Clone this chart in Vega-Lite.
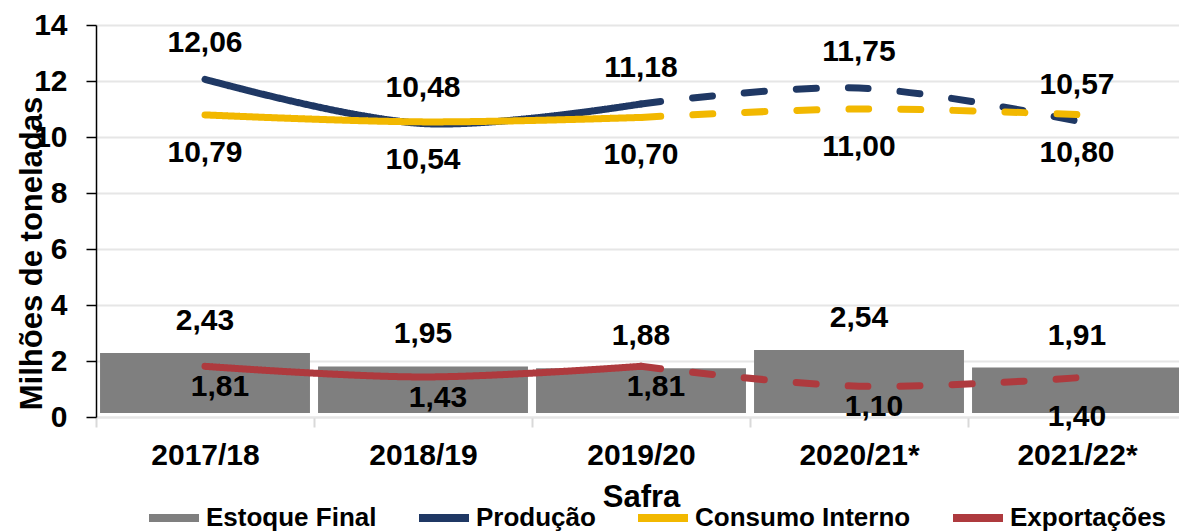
{
  "$schema": "https://vega.github.io/schema/vega-lite/v6.json",
  "width": 1083,
  "height": 392,
  "autosize": {"type": "none"},
  "padding": {"left": 96, "top": 25, "right": 0, "bottom": 115},
  "config": {
    "locale": {"number": {"decimal": ",", "thousands": ".", "grouping": [3], "currency": ["R$ ", ""]}},
    "font": "Liberation Sans",
    "view": {"stroke": null}
  },
  "datasets": {
    "estoque": [
      {"safra": "2017/18", "valor": 2.43},
      {"safra": "2018/19", "valor": 1.95},
      {"safra": "2019/20", "valor": 1.88},
      {"safra": "2020/21*", "valor": 2.54},
      {"safra": "2021/22*", "valor": 1.91}
    ],
    "linhas": [
      {"safra": "2017/18", "serie": "Produção", "tipo": "real", "valor": 12.06},
      {"safra": "2018/19", "serie": "Produção", "tipo": "real", "valor": 10.48},
      {"safra": "2019/20", "serie": "Produção", "tipo": "real", "valor": 11.18},
      {"safra": "2019/20", "serie": "Produção", "tipo": "proj", "valor": 11.18},
      {"safra": "2020/21*", "serie": "Produção", "tipo": "proj", "valor": 11.75},
      {"safra": "2021/22*", "serie": "Produção", "tipo": "proj", "valor": 10.57},
      {"safra": "2017/18", "serie": "Consumo Interno", "tipo": "real", "valor": 10.79},
      {"safra": "2018/19", "serie": "Consumo Interno", "tipo": "real", "valor": 10.54},
      {"safra": "2019/20", "serie": "Consumo Interno", "tipo": "real", "valor": 10.70},
      {"safra": "2019/20", "serie": "Consumo Interno", "tipo": "proj", "valor": 10.70},
      {"safra": "2020/21*", "serie": "Consumo Interno", "tipo": "proj", "valor": 11.00},
      {"safra": "2021/22*", "serie": "Consumo Interno", "tipo": "proj", "valor": 10.80},
      {"safra": "2017/18", "serie": "Exportações", "tipo": "real", "valor": 1.81},
      {"safra": "2018/19", "serie": "Exportações", "tipo": "real", "valor": 1.43},
      {"safra": "2019/20", "serie": "Exportações", "tipo": "real", "valor": 1.81},
      {"safra": "2019/20", "serie": "Exportações", "tipo": "proj", "valor": 1.81},
      {"safra": "2020/21*", "serie": "Exportações", "tipo": "proj", "valor": 1.10},
      {"safra": "2021/22*", "serie": "Exportações", "tipo": "proj", "valor": 1.40}
    ]
  },
  "encoding": {
    "x": {
      "field": "safra", "type": "nominal", "sort": null,
      "scale": {"range": [0, 1090], "paddingInner": 0, "paddingOuter": 0},
      "axis": {
        "title": "Safra", "labelAngle": 0, "labelFontSize": 30, "labelFontWeight": "bold", "labelColor": "#000000",
        "tickBand": "extent", "tickColor": "#d9d9d9", "tickWidth": 2, "tickSize": 10,
        "domainColor": "#e6e6e6", "domainWidth": 2, "labelPadding": 13, "grid": false,
        "titleFontSize": 31, "titleFontWeight": "bold", "titleColor": "#000000", "titlePadding": 12
      }
    },
    "y": {
      "field": "valor", "type": "quantitative",
      "scale": {"domain": [0, 14], "nice": false},
      "axis": {
        "title": "Milhões de toneladas", "values": [0, 2, 4, 6, 8, 10, 12, 14],
        "grid": true, "gridColor": "#e6e6e6", "gridWidth": 2,
        "domainColor": "#000000", "domainWidth": 1.5, "tickColor": "#000000", "tickWidth": 1.5, "tickSize": 10,
        "labelFontSize": 30, "labelFontWeight": "bold", "labelColor": "#000000", "labelPadding": 19,
        "titleFontSize": 31, "titleFontWeight": "bold", "titleColor": "#000000",
        "titleX": -55, "titleY": 228, "titleBaseline": "alphabetic", "titleAngle": -90
      }
    }
  },
  "layer": [
    {
      "data": {"name": "estoque"},
      "mark": {"type": "bar", "color": "#7f7f7f", "width": {"band": 0.963}, "yOffset": 4, "y2Offset": -4},
      "encoding": {"y2": {"datum": 0}}
    },
    {
      "data": {"name": "linhas"},
      "mark": {"type": "line", "interpolate": "catmull-rom", "strokeWidth": 7, "strokeCap": "round"},
      "encoding": {
        "color": {
          "field": "serie", "type": "nominal",
          "scale": {"domain": ["Estoque Final", "Produção", "Consumo Interno", "Exportações"], "range": ["#7f7f7f", "#1f3864", "#f2b800", "#ae3a3e"]},
          "legend": {
            "title": null, "orient": "none", "legendX": 49, "legendY": 464, "direction": "horizontal",
            "symbolType": "stroke", "symbolStrokeWidth": 8, "symbolSize": 2500,
            "labelFontSize": 26, "labelFontWeight": "bold", "labelColor": "#000000", "labelLimit": 400,
            "columnPadding": 26, "labelOffset": 3
          }
        },
        "strokeDash": {
          "field": "tipo", "type": "nominal",
          "scale": {"domain": ["real", "proj"], "range": [[1, 0], [20, 32]]},
          "legend": null
        }
      }
    },
    {
      "data": {"name": "estoque"},
      "mark": {"type": "text", "fontSize": 30, "fontWeight": "bold", "baseline": "middle", "dy": -28, "color": "#000000"},
      "encoding": {"text": {"field": "valor", "type": "quantitative", "format": ".2f"}}
    },
    {
      "data": {"name": "linhas"},
      "transform": [{"filter": "datum.serie == 'Produção' && (datum.tipo == 'real' || datum.safra != '2019/20')"}],
      "mark": {"type": "text", "fontSize": 30, "fontWeight": "bold", "baseline": "middle", "dy": -36, "color": "#000000"},
      "encoding": {"text": {"field": "valor", "type": "quantitative", "format": ".2f"}}
    },
    {
      "data": {"name": "linhas"},
      "transform": [{"filter": "datum.serie == 'Consumo Interno' && (datum.tipo == 'real' || datum.safra != '2019/20')"}],
      "mark": {"type": "text", "fontSize": 30, "fontWeight": "bold", "baseline": "middle", "dy": 38, "color": "#000000"},
      "encoding": {"text": {"field": "valor", "type": "quantitative", "format": ".2f"}}
    },
    {
      "data": {"name": "linhas"},
      "transform": [{"filter": "datum.serie == 'Exportações' && (datum.tipo == 'real' || datum.safra != '2019/20') && datum.safra != '2021/22*'"}],
      "mark": {"type": "text", "fontSize": 30, "fontWeight": "bold", "baseline": "middle", "dy": 21, "dx": 15, "color": "#000000"},
      "encoding": {"text": {"field": "valor", "type": "quantitative", "format": ".2f"}}
    },
    {
      "data": {"name": "linhas"},
      "transform": [{"filter": "datum.serie == 'Exportações' && datum.safra == '2021/22*'"}],
      "mark": {"type": "text", "fontSize": 30, "fontWeight": "bold", "baseline": "middle", "dy": 39, "color": "#000000"},
      "encoding": {"text": {"field": "valor", "type": "quantitative", "format": ".2f"}}
    }
  ]
}
